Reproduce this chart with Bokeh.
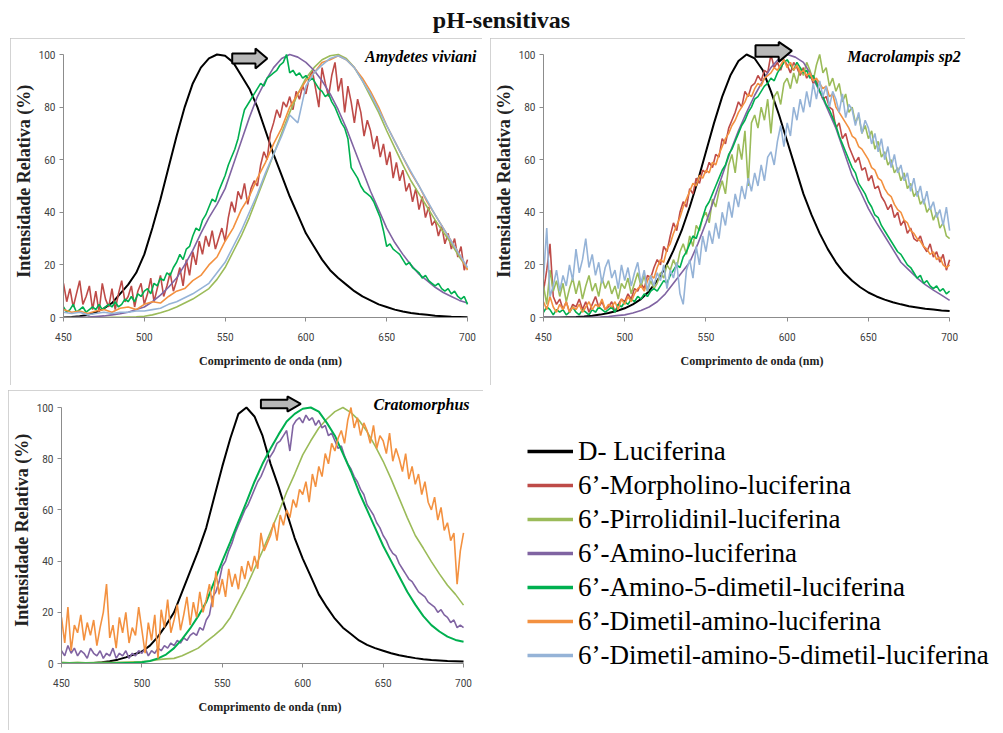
from bokeh.plotting import figure
from bokeh.models import Range1d, FixedTicker, Label, PolyAnnotation, Legend, LegendItem, Div, Spacer
from bokeh.layouts import column, row
from bokeh.embed import file_html
from bokeh.resources import INLINE

# ---------------- data ----------------
WL5 = list(range(450, 701, 5))   # 51 points, smooth spectra
WL2 = list(range(450, 701, 2))   # 126 points, noisy spectra
X_TICKS = [450, 500, 550, 600, 650, 700]
Y_TICKS = [0, 20, 40, 60, 80, 100]

LABELS = ["D- Luciferina", "6’-Morpholino-luciferina", "6’-Pirrolidinil-luciferina",
          "6’-Amino-luciferina", "6’-Amino-5-dimetil-luciferina",
          "6’-Dimetil-amino-luciferina", "6’-Dimetil-amino-5-dimetil-luciferina"]
COLORS = ["#000000", "#BE4B48", "#9BBB59", "#8064A2", "#00B050", "#F39140", "#95B3D7"]
SPECIES = ["Amydetes viviani", "Macrolampis sp2", "Cratomorphus"]

# Panel 1 - Amydetes viviani
P1_DLUC = [0, 0.2, 0.5, 1, 2, 3.5, 5.5, 9, 12.5, 17,
           24, 34, 45, 57, 69, 80, 89, 95, 98.5, 100,
           99.5, 97, 92, 87, 80, 71, 62, 54, 46, 39,
           32, 27, 22, 18, 15, 12.5, 10, 8, 6.5, 5,
           4, 3, 2.3, 1.7, 1.3, 1, 0.7, 0.5, 0.3, 0.2,
           0.1]
P1_MORPH = [13, 6, 11, 4, 9, 14, 5, 8, 12, 3,
            10, 2, 13, 7, 4, 11, 3, 9, 14, 6,
            8, 12, 4, 10, 13, 5, 9, 15, 6, 11,
            16, 8, 12, 17, 10, 14, 19, 12, 22, 16,
            25, 20, 29, 24, 31, 27, 33, 26, 30, 34,
            29, 38, 44, 40, 48, 45, 51, 43, 49, 52,
            50, 58, 63, 60, 70, 74, 79, 76, 82, 80,
            84, 79, 86, 83, 88, 85, 91, 94, 87, 80,
            95, 89, 84, 92, 97, 86, 91, 78, 88, 82,
            74, 83, 78, 69, 75, 71, 64, 69, 61, 66,
            58, 63, 53, 59, 52, 56, 48, 51, 44, 49,
            41, 46, 38, 42, 35, 37, 31, 35, 28, 32,
            26, 30, 23, 27, 18, 22]
P1_PIRRO = [0, 0, 0, 0, 0, 0, 0.1, 0.1, 0.2, 0.3,
            0.5, 1, 1.8, 2.8, 4, 5.5, 7, 9, 11, 14.5,
            19, 25, 31, 38, 46, 54, 62, 70, 78, 85,
            91, 95, 98, 99.5, 100, 98.5, 95, 90, 84, 78,
            71, 64.5, 58, 52, 47, 42, 37, 32.5, 28, 23,
            18.5]
P1_AMINO = [0, 0, 0.1, 0.2, 0.4, 0.6, 1, 1.4, 2, 3,
            4, 6, 8.5, 11.5, 15, 20, 25.5, 32, 38, 43,
            49, 58, 67, 76, 84, 90, 95, 98.5, 100, 99,
            97, 94, 90, 85, 79, 72, 64, 56, 48, 41,
            34, 28.5, 24, 20, 16.5, 14, 11.5, 9.5, 8, 6.5,
            5.5]
P1_A5D = [4, 2, 3, 5, 2, 3, 4, 2, 3, 4,
          3, 5, 3, 4, 5, 4, 6, 4, 5, 7,
          6, 8, 6, 9, 8, 10, 11, 9, 13, 12,
          15, 14, 17, 16, 19, 21, 24, 22, 26, 27,
          31, 34, 33, 37, 39, 42, 45, 44, 48, 51,
          54, 58, 61, 64, 68, 74, 79, 81, 83, 85,
          87, 89, 88, 91, 92, 93, 94, 96, 97, 100,
          93, 94, 92, 93, 91, 92, 90, 91, 89, 87,
          86, 84, 85, 82, 80, 77, 74, 72, 68, 57,
          55, 53, 50, 48, 47, 46, 44, 41, 38, 33,
          27, 28, 26, 25, 24, 22, 20, 21, 19, 18,
          17, 15, 16, 14, 13, 12, 13, 11, 10, 11,
          9, 10, 8, 7, 8, 5]
P1_DMA = [3, 2, 2.5, 1.5, 2.5, 3, 2, 3.5, 4, 3,
          5, 6, 5.5, 8, 10, 11, 14, 16, 20, 23,
          29, 34, 41, 46, 53, 59, 66, 72, 80, 85,
          90, 93, 97, 98, 99.5, 98, 95, 91, 86, 80,
          73, 67, 61, 55, 50, 44, 39, 34, 29, 24,
          18]
P1_DMA5D = [2, 1.5, 2, 1, 1.5, 2, 1.5, 2, 2, 2.5,
            2.5, 3, 3.5, 5, 6, 7.5, 9, 11, 13, 17,
            21, 27, 33, 40, 47, 55, 62, 69, 77, 74,
            88, 93, 96, 98.5, 99.5, 98, 95, 90, 85, 79,
            73, 67, 61, 55.5, 50, 44.5, 39, 34, 29, 24,
            19]

# Panel 2 - Macrolampis sp2
P2_DLUC = [0, 0, 0, 0.1, 0.2, 0.4, 0.7, 1.1, 1.7, 2.5,
           3.5, 5, 7, 10, 14, 19, 25.5, 33, 42, 52,
           63, 74, 84, 92, 97.5, 100, 98.5, 94, 86, 77,
           67, 57, 47, 39, 32, 26, 21, 17, 14, 11.5,
           9.5, 8, 6.8, 5.8, 5, 4.3, 3.8, 3.3, 3, 2.7,
           2.5]
P2_MORPH = [10, 18, 28, 8, 5, 7, 3, 6, 2, 5,
            4, 7, 3, 6, 2, 5, 8, 4, 6, 3,
            4, 6, 2, 5, 7, 6, 9, 7, 11, 10,
            13, 11, 16, 15, 19, 22, 20, 27, 25, 31,
            36, 33, 40, 44, 42, 49, 47, 53, 51, 56,
            55, 59, 57, 62, 61, 68, 66, 72, 75, 78,
            82, 80, 86, 84, 88, 89, 92, 90, 94, 93,
            100, 95, 97, 94, 98, 96, 93, 97, 95, 92,
            95, 91, 93, 89, 90, 86, 83, 84, 80, 79,
            72, 74, 68, 70, 65, 62, 59, 61, 56, 57,
            52, 54, 49, 50, 46, 44, 41, 43, 38, 40,
            35, 37, 32, 34, 30, 29, 31, 27, 25, 28,
            23, 25, 21, 24, 18, 22]
P2_PIRRO = [12, 5, 18, 10, 14, 8, 13, 6, 11, 15,
            9, 14, 7, 12, 16, 10, 13, 8, 15, 11,
            14, 9, 12, 7, 13, 11, 15, 9, 13, 17,
            12, 16, 10, 14, 11, 13, 17, 15, 20, 18,
            22, 19, 25, 28, 24, 31, 27, 35, 33, 38,
            40, 36, 45, 42, 48, 52, 47, 58, 62, 55,
            66, 60, 71, 50, 74, 77, 72, 80, 75, 83,
            70, 84, 86, 81, 89, 91, 87, 93, 89, 95,
            92, 97, 94, 90, 96, 100, 93, 95, 88, 91,
            86, 89, 82, 85, 78, 80, 74, 77, 70, 73,
            68, 71, 64, 67, 61, 63, 58, 60, 55, 57,
            52, 55, 49, 51, 46, 48, 43, 45, 40, 42,
            37, 40, 34, 36, 31, 30]
P2_AMINO = [0, 0, 0, 0, 0, 0, 0.1, 0.2, 0.4, 0.7,
            1, 1.7, 2.7, 4, 6, 9, 13, 17, 21, 28,
            36, 45, 54, 63, 71, 78, 84.5, 90, 95, 98.5,
            100, 99, 97, 92, 86, 79, 72, 63, 54, 48,
            41.4, 36, 31, 26, 21, 18, 15, 12.5, 10.4, 8.5,
            6.5]
P2_A5D = [2, 4, 3, 1, 3, 2, 3, 1, 2, 4,
          2, 1, 3, 2, 1, 3, 2, 4, 3, 2,
          3, 4, 2, 5, 4, 6, 5, 7, 6, 8,
          7, 9, 8, 10, 11, 10, 12, 14, 13, 16,
          18, 20, 19, 23, 25, 28, 31, 30, 34, 38,
          42, 44, 47, 50, 53, 56, 58, 62, 64, 67,
          70, 73, 75, 78, 80, 83, 84, 86, 88, 89,
          91, 90, 93, 95, 97, 98, 96, 94, 97, 95,
          93, 94, 91, 92, 89, 86, 84, 81, 79, 76,
          73, 69, 66, 63, 60, 57, 55, 51, 49, 47,
          44, 42, 39, 38, 35, 33, 31, 29, 27, 25,
          24, 22, 20, 19, 17, 15, 16, 13, 14, 12,
          11, 12, 10, 11, 9, 10]
P2_DMA = [6, 3, 8, 4, 2, 5, 3, 6, 2, 4,
          3, 5, 2, 4, 6, 3, 5, 4, 7, 3,
          5, 4, 6, 3, 7, 5, 8, 6, 9, 11,
          12, 10, 14, 16, 15, 19, 22, 21, 26, 28,
          32, 35, 38, 42, 45, 48, 51, 50, 54, 53,
          56, 55, 59, 58, 62, 65, 68, 70, 73, 75,
          78, 80, 82, 85, 84, 87, 89, 88, 91, 92,
          93, 95, 94, 96, 98, 95, 97, 94, 96, 93,
          94, 92, 93, 90, 91, 89, 87, 88, 84, 85,
          80, 78, 76, 74, 72, 69, 68, 65, 64, 62,
          60, 57, 56, 53, 52, 49, 47, 46, 43, 41,
          40, 37, 36, 33, 32, 30, 29, 27, 26, 24,
          25, 22, 23, 20, 19, 20]
P2_DMA5D = [15, 34, 8, 12, 18, 10, 16, 12, 20, 14,
            26, 17, 22, 30, 19, 24, 16, 21, 13, 19,
            22, 15, 18, 11, 20, 14, 19, 12, 17, 21,
            13, 18, 10, 16, 12, 17, 14, 20, 11, 18,
            15, 21, 9, 5, 18, 22, 15, 27, 20, 31,
            25, 33, 28, 36, 30, 40, 35, 44, 38, 47,
            42, 50, 45, 53, 48, 55, 50, 58, 52, 61,
            63, 58, 67, 73, 65, 74, 69, 80, 75, 83,
            78, 86, 80, 89, 83, 90, 84, 88, 80, 86,
            83, 78, 85, 76, 81, 79, 73, 78, 70, 75,
            72, 66, 70, 63, 68, 60, 65, 57, 62, 55,
            58, 52, 55, 48, 53, 46, 50, 43, 48, 41,
            44, 38, 41, 35, 42, 33]

# Panel 3 - Cratomorphus
P3_DLUC = [0, 0, 0, 0, 0.2, 0.5, 0.9, 1.5, 2.4, 3.5,
           4.7, 7, 10.5, 15, 20, 28, 36, 44, 53, 65,
           77, 88, 97.5, 100, 96.5, 89, 78, 69, 59, 49,
           41, 34, 27, 22, 17.5, 14, 11.5, 9, 7.3, 6,
           5, 4, 3.2, 2.6, 2.1, 1.7, 1.4, 1.2, 1.0, 0.9,
           0.8]
P3_PIRRO = [0.5, 0.3, 0.5, 0.3, 0.4, 0.5, 0.4, 0.5, 0.6, 0.7,
            0.8, 1, 1.5, 1.8, 2, 3, 4.5, 6, 8.5, 11,
            13.7, 18, 24, 30, 37, 44, 51.5, 59, 67, 74,
            81.5, 87, 92, 95.5, 98.4, 100, 98, 95, 90.6, 85,
            79, 72, 64.5, 57, 50, 45, 39.8, 35, 30.6, 27,
            22.8]
P3_AMINO = [5, 3, 7, 4, 6, 3, 5, 4, 2, 6,
            4, 3, 5, 2, 4, 3, 6, 2, 4, 3,
            5, 2, 4, 3, 5, 4, 6, 3, 5, 4,
            6, 5, 7, 6, 8, 7, 9, 8, 10, 9,
            11, 12, 11, 14, 13, 17, 19, 26, 28, 32,
            38, 40, 44, 47, 51, 54, 57, 60, 62, 65,
            68, 71, 73, 76, 79, 81, 83, 86, 87, 89,
            91, 83, 93, 95, 96, 94, 97, 95, 96, 93,
            95, 92, 93, 89, 90, 87, 84, 85, 81, 78,
            76, 73, 71, 68, 66, 62, 60, 58, 55, 53,
            50, 48, 45, 43, 42, 39, 37, 35, 33, 32,
            30, 28, 27, 26, 24, 23, 22, 20, 21, 19,
            18, 16, 17, 14, 15, 14]
P3_A5D = [0, 0, 0, 0, 0, 0, 0, 0.1, 0.2, 0.3,
          0.5, 1, 2, 3.5, 6, 9.5, 13.7, 18.5, 24, 32,
          40, 47.5, 55.4, 63, 71, 78, 84, 89.5, 94.5, 97.5,
          99.5, 100, 98.4, 94, 89, 82, 75, 67, 60, 53,
          46, 40, 34, 28, 23, 18.5, 15, 12.5, 10.5, 9.2,
          8.5]
P3_DMA = [18, 8, 22, 5, 15, 12, 19, 9, 16, 11,
          17, 7, 14, 20, 31, 10, 15, 6, 18, 12,
          20, 8, 14, 11, 22, 13, 4, 16, 9, 19,
          2, 21, 14, 25, 12, 17, 23, 13, 19, 26,
          15, 24, 18, 28, 20, 25, 31, 22, 36, 27,
          33, 26, 37, 30, 35, 29, 38, 33, 40, 36,
          42, 37, 51, 44, 47, 50, 55, 48, 58, 54,
          60, 57, 64, 61, 68, 66, 71, 63, 74, 69,
          77, 73, 82, 78, 86, 83, 88, 91, 86, 95,
          100, 92, 96, 89, 94, 91, 86, 93, 84, 89,
          87, 82, 90, 79, 84, 80, 75, 82, 72, 77,
          70, 74, 66, 71, 63, 60, 65, 56, 61, 52,
          55, 48, 51, 31, 44, 51]

# ---------------- styling helpers ----------------
AXIS_GRAY = "#8c8c8c"


def make_panel(width, height, left, right, top, bottom, data_w, data_h):
    # data_w / data_h: pixel length of 450..700 nm and 0..100 %; the frame is a
    # little larger so that arrows and species names above/right are not clipped
    frame_w = width - left - right
    frame_h = height - top - bottom
    x_end = 450 + 250.0 * frame_w / data_w
    y_end = 100.0 * frame_h / data_h
    p = figure(width=width, height=height,
               x_range=Range1d(450, x_end), y_range=Range1d(0, y_end),
               output_backend="svg", toolbar_location=None,
               min_border_left=left, min_border_right=right,
               min_border_top=top, min_border_bottom=bottom,
               background_fill_color="white", border_fill_color="white",
               styles={"outline": "1px solid #c4c4c4", "outline-offset": "-1px"})
    p.outline_line_color = None
    p.xgrid.visible = False
    p.ygrid.visible = False
    p.xaxis.ticker = FixedTicker(ticks=X_TICKS)
    p.yaxis.ticker = FixedTicker(ticks=Y_TICKS)
    p.xaxis.bounds = (450, 700)
    p.yaxis.bounds = (0, 100)
    for ax in (p.xaxis[0], p.yaxis[0]):
        ax.axis_line_color = AXIS_GRAY
        ax.major_tick_line_color = AXIS_GRAY
        ax.minor_tick_line_color = None
        ax.major_tick_in = 0
        ax.major_tick_out = 4
        ax.major_label_text_font = "Roboto"
        ax.major_label_text_font_size = "10px"
        ax.major_label_text_color = "#404040"
        ax.axis_label_text_font = "Liberation Serif"
        ax.axis_label_text_font_style = "bold"
        ax.axis_label_text_color = "#222222"
    p.xaxis.axis_label = "Comprimento  de onda (nm)"
    p.xaxis.axis_label_text_font_size = "12px"
    p.xaxis.major_label_standoff = 11
    p.xaxis.axis_label_standoff = 10
    p.yaxis.axis_label = "Intensidade  Relativa (%)"
    p.yaxis.axis_label_text_font_size = "18px"
    p.yaxis.major_label_standoff = 4
    p.yaxis.axis_label_standoff = 2
    return p


def add_species(p, text, x_off, y_off):
    p.add_layout(Label(x=700, y=100, text=text, text_align="right",
                       text_baseline="alphabetic", x_offset=x_off, y_offset=y_off,
                       text_font="Liberation Serif", text_font_style="bold italic",
                       text_font_size="16px", text_color="black"))


def add_arrow(p, x0, xh, tip, h_top, s_top, mid, s_bot, h_bot):
    p.add_layout(PolyAnnotation(xs=[x0, xh, xh, tip, xh, xh, x0],
                                ys=[s_top, s_top, h_top, mid, h_bot, s_bot, s_bot],
                                fill_color="#b8b8b8", fill_alpha=1.0,
                                line_color="black", line_alpha=1.0, line_width=2))


LW = 1.6

# Panel 1
p1 = make_panel(472, 347, 53, 2, 2, 68, 404, 263)
p1.line(WL5, P1_DLUC, color=COLORS[0], line_width=2)
p1.line(WL2, P1_MORPH, color=COLORS[1], line_width=LW)
p1.line(WL5, P1_PIRRO, color=COLORS[2], line_width=LW)
p1.line(WL5, P1_AMINO, color=COLORS[3], line_width=LW)
p1.line(WL2, P1_A5D, color=COLORS[4], line_width=LW)
p1.line(WL5, P1_DMA, color=COLORS[5], line_width=LW)
p1.line(WL5, P1_DMA5D, color=COLORS[6], line_width=LW)
add_species(p1, SPECIES[0], 9, -2)
add_arrow(p1, 554.4, 568.8, 576.1, 102.3, 100.4, 98.5, 96.6, 94.7)

# Panel 2
p2 = make_panel(475, 347, 49, 2, 2, 68, 410, 263)
p2.line(WL5, P2_DLUC, color=COLORS[0], line_width=2)
p2.line(WL2, P2_MORPH, color=COLORS[1], line_width=LW)
p2.line(WL2, P2_PIRRO, color=COLORS[2], line_width=LW)
p2.line(WL5, P2_AMINO, color=COLORS[3], line_width=LW)
p2.line(WL2, P2_A5D, color=COLORS[4], line_width=LW)
p2.line(WL2, P2_DMA, color=COLORS[5], line_width=LW)
p2.line(WL2, P2_DMA5D, color=COLORS[6], line_width=LW)
add_species(p2, SPECIES[1], 11, -2)
add_arrow(p2, 580.5, 594.8, 602.9, 104.8, 103.5, 101.4, 99.1, 97.2)

# Panel 3
p3 = make_panel(475, 340, 52, 2, 2, 67, 403, 256)
p3.line(WL5, P3_DLUC, color=COLORS[0], line_width=2)
p3.line(WL5, P3_PIRRO, color=COLORS[2], line_width=LW)
p3.line(WL2, P3_AMINO, color=COLORS[3], line_width=LW)
p3.line(WL5, P3_A5D, color=COLORS[4], line_width=2)
p3.line(WL2, P3_DMA, color=COLORS[5], line_width=LW)
add_species(p3, SPECIES[2], 6, 3)
add_arrow(p3, 574, 590.5, 598.8, 104.3, 103, 101.4, 99.7, 98.4)

# Legend panel (its sample lines reuse panel-1 data, outside the visible range)
lf = figure(width=476, height=296, x_range=Range1d(0, 1), y_range=Range1d(0, 1),
            output_backend="svg", toolbar_location=None,
            x_axis_location=None, y_axis_location=None, min_border=0)
lf.outline_line_color = None
lf.xgrid.visible = False
lf.ygrid.visible = False
legend_src = [(WL5, P1_DLUC), (WL2, P1_MORPH), (WL5, P1_PIRRO), (WL5, P1_AMINO),
              (WL2, P1_A5D), (WL5, P1_DMA), (WL5, P1_DMA5D)]
items = []
for lab, col, (xs, ys) in zip(LABELS, COLORS, legend_src):
    r = lf.line(xs, ys, color=col, line_width=3.5)
    items.append(LegendItem(label=lab, renderers=[r]))
legend = Legend(items=items, location="top_left", orientation="vertical",
                glyph_width=46, glyph_height=34, label_height=34, label_standoff=5,
                spacing=0, padding=0, margin=0, border_line_color=None,
                background_fill_alpha=0,
                label_text_font="Liberation Serif", label_text_font_size="27px",
                label_text_color="black", label_text_baseline="middle")
lf.add_layout(legend)

title = Div(text="pH-sensitivas", width=1003, height=38, margin=0,
            styles={"font-family": "Liberation Serif", "font-weight": "bold",
                    "font-size": "24px", "text-align": "center", "line-height": "40px",
                    "color": "#111111"})

layout = column(
    title,
    row(Spacer(width=10), p1, Spacer(width=8), p2),
    Spacer(height=5),
    row(Spacer(width=8), p3, column(Spacer(height=44), row(Spacer(width=44), lf))),
)

open("out.html", "w").write(file_html(layout, INLINE))
